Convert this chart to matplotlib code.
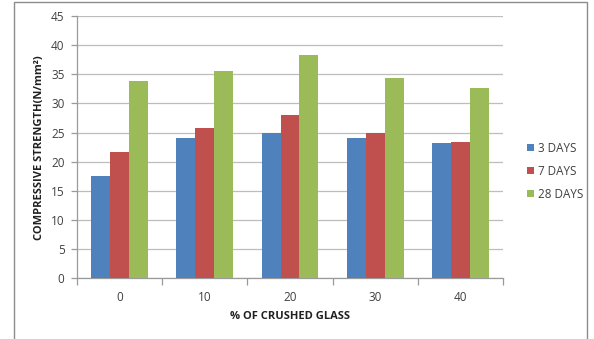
import numpy as np
import matplotlib
matplotlib.use("Agg")
import matplotlib.pyplot as plt
from matplotlib.patches import Rectangle

categories = ["0", "10", "20", "30", "40"]
series_names = ["3 DAYS", "7 DAYS", "28 DAYS"]
days3 = [17.5, 24.1, 25.0, 24.0, 23.2]
days7 = [21.7, 25.8, 28.0, 25.0, 23.4]
days28 = [33.8, 35.6, 38.3, 34.3, 32.6]
colors = ["#4F81BD", "#C0504D", "#9BBB59"]

plt.rcParams["font.family"] = ["Open Sans", "DejaVu Sans"]

W, H = 594, 339
fig = plt.figure(figsize=(W / 100, H / 100), dpi=100)
fig.patch.set_facecolor("white")

# chart frame (bottom edge runs off the canvas)
fig.patches.append(Rectangle((14 / W, -0.05), (587 - 14) / W, 1.05 - 2 / H,
                             transform=fig.transFigure, fill=False,
                             edgecolor="#8C8C8C", linewidth=1.0))

left, right, top, bottom = 77, 503, 16, 278.3
ax = fig.add_axes([left / W, 1 - bottom / H, (right - left) / W, (bottom - top) / H])

x = np.arange(len(categories))
bw = 0.667 / 3
for i, (vals, name) in enumerate(zip([days3, days7, days28], series_names)):
    ax.bar(x + (i - 1) * bw, vals, width=bw, color=colors[i], label=name,
           zorder=3, linewidth=0)

ax.set_xlim(-0.5, len(categories) - 0.5)
ax.set_ylim(0, 45)
ax.set_yticks(np.arange(0, 46, 5))
ax.yaxis.grid(True, color="#BDBDBD", linewidth=0.9, zorder=0)
ax.set_axisbelow(True)

ax.set_xticks(x)
ax.set_xticklabels(categories)
ax.set_xticks(np.arange(-0.5, len(categories), 1.0), minor=True)
ax.tick_params(axis="x", which="major", length=0, pad=9, labelsize=8.5, labelcolor="#404040")
ax.tick_params(axis="x", which="minor", length=5, color="#9A9A9A", width=0.9)
ax.tick_params(axis="y", length=4, color="#9A9A9A", width=0.9, labelsize=8.5,
               labelcolor="#404040", pad=5)

for s in ["top", "right"]:
    ax.spines[s].set_visible(False)
for s in ["left", "bottom"]:
    ax.spines[s].set_color("#9A9A9A")
    ax.spines[s].set_linewidth(0.9)

ax.set_xlabel("% OF CRUSHED GLASS", fontsize=8, fontweight="bold", labelpad=5, color="#202020")
ax.set_ylabel("COMPRESSIVE STRENGTH(N/mm²)", fontsize=8, fontweight="bold", labelpad=4, color="#202020")

leg = ax.legend(loc="upper left", bbox_to_anchor=(522 / W, 1 - 137 / H),
                bbox_transform=fig.transFigure, frameon=False, fontsize=8.4,
                handlelength=0.6, handleheight=0.6, handletextpad=0.35,
                labelspacing=0.85, borderaxespad=0)
for t in leg.get_texts():
    t.set_color("#404040")

fig.savefig("out.png", dpi=100, facecolor="white")
